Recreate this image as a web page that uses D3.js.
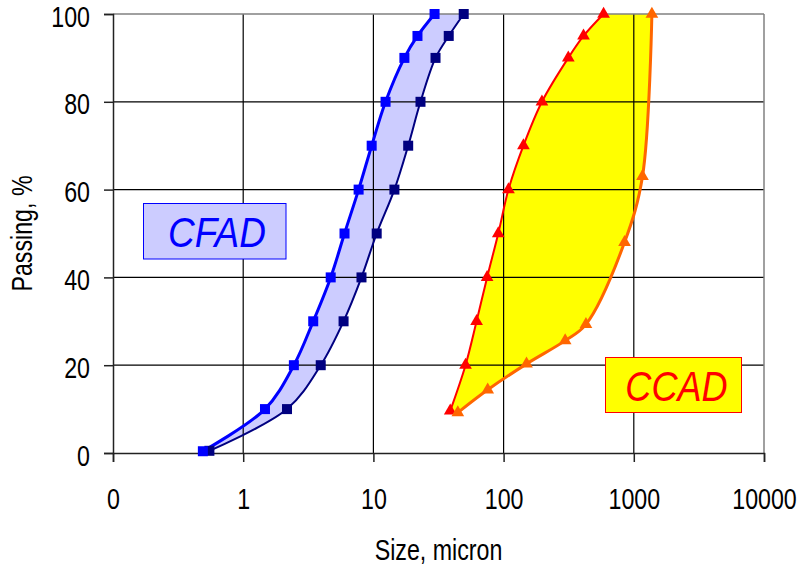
<!DOCTYPE html>
<html>
<head>
<meta charset="utf-8">
<script src="https://cdn.jsdelivr.net/npm/d3@7"></script>
<style>
  html, body { margin: 0; padding: 0; background: #fff; }
  svg { display: block; }
  text { font-family: "Liberation Sans", Arial, sans-serif; }
</style>
</head>
<body>
<svg id="chart" width="798" height="567"></svg>
<script>
// ---------------- DATA ----------------
const xTickValues = [0.1, 1, 10, 100, 1000, 10000];
const xTickLabels = ["0", "1", "10", "100", "1000", "10000"];
const yTickValues = [0, 20, 40, 60, 80, 100];
const xGridValues = [1, 10, 100, 1000];
const yGridValues = [20, 40, 60, 80];

// CFAD fine boundary (blue squares)
const cfadFineSize    = [0.49, 1.47, 2.45, 3.45, 4.7, 6.0, 7.7, 9.7, 12.4, 17.3, 21.8, 29.5];
const cfadFinePassing = [0.4, 10, 20, 30, 40, 50, 60, 70, 80, 90, 95, 100];
// CFAD coarse boundary (navy squares)
const cfadCoarseSize    = [0.55, 2.17, 3.94, 5.9, 8.1, 10.6, 14.5, 18.5, 23, 30, 37.9, 49.4];
const cfadCoarsePassing = [0.5, 10, 20, 30, 40, 50, 60, 70, 80, 90, 95, 100];
// CCAD fine boundary (red triangles)
const ccadFineSize    = [38.9, 51, 62, 74.7, 91, 109, 142, 197, 314, 411, 586];
const ccadFinePassing = [9.6, 20, 30, 40, 50, 60, 70, 80, 90, 95, 100];
// CCAD coarse boundary (orange triangles)
const ccadCoarseSize    = [44.5, 75.5, 150, 297, 429, 849, 1166, 1377];
const ccadCoarsePassing = [9.2, 14.4, 20.3, 25.6, 29.3, 48, 63, 100];

const xTitle = "Size, micron";
const yTitle = "Passing, %";
const labelCFAD = "CFAD";
const labelCCAD = "CCAD";

// ---------------- CHART ----------------
const svg = d3.select("#chart");
const NARROW = 0.8;

const x = d3.scaleLog().domain([0.1, 10000]).range([113, 764]);
const y = d3.scaleLinear().domain([0, 100]).range([453, 14]);

const zip = (s, p) => s.map((v, i) => ({ s: v, p: p[i] }));
const cfadFine = zip(cfadFineSize, cfadFinePassing);
const cfadCoarse = zip(cfadCoarseSize, cfadCoarsePassing);
const ccadFine = zip(ccadFineSize, ccadFinePassing);
const ccadCoarse = zip(ccadCoarseSize, ccadCoarsePassing);

const line = d3.line().x(d => x(d.s)).y(d => y(d.p)).curve(d3.curveCatmullRom.alpha(0.5));

function bandPath(a, b) {
  const p1 = line(a);
  const p2 = line(b.slice().reverse()).replace(/^M/, "L");
  return p1 + p2 + "Z";
}

// fills
svg.append("path").attr("d", bandPath(cfadFine, cfadCoarse))
  .attr("fill", "#CCCCFF").attr("stroke", "none");
svg.append("path").attr("d", bandPath(ccadFine, ccadCoarse))
  .attr("fill", "#FFFF00").attr("stroke", "none");

// gridlines
const grid = svg.append("g");
grid.selectAll(".vg").data(xGridValues).enter().append("line")
  .attr("x1", d => x(d)).attr("x2", d => x(d))
  .attr("y1", y(0)).attr("y2", y(100))
  .attr("stroke", "#000").attr("stroke-width", 1.2);
grid.selectAll(".hg").data(yGridValues).enter().append("line")
  .attr("x1", x(0.1)).attr("x2", x(10000))
  .attr("y1", d => y(d)).attr("y2", d => y(d))
  .attr("stroke", "#000").attr("stroke-width", 1.2);
// plot border (top & right)
svg.append("line").attr("x1", x(0.1)).attr("x2", x(10000)).attr("y1", y(100)).attr("y2", y(100))
  .attr("stroke", "#808080").attr("stroke-width", 1.5);
svg.append("line").attr("x1", x(10000)).attr("x2", x(10000)).attr("y1", y(100)).attr("y2", y(0))
  .attr("stroke", "#808080").attr("stroke-width", 1.5);

// axes
const xAxis = d3.axisBottom(x).tickValues(xTickValues)
  .tickFormat((d, i) => xTickLabels[i]).tickSizeOuter(0).tickSize(9);
const gx = svg.append("g").attr("transform", `translate(0,${y(0)})`).call(xAxis);
gx.select(".domain").attr("stroke", "#222").attr("stroke-width", 1.5);
gx.selectAll(".tick line").attr("stroke", "#222").attr("stroke-width", 1.5);
gx.selectAll(".tick text")
  .attr("y", 56).attr("dy", 0)
  .attr("transform", `scale(${NARROW},1)`)
  .attr("font-size", 29).attr("fill", "#000")
  .style("font-family", '"Liberation Sans", Arial, sans-serif');

const yAxis = d3.axisLeft(y).tickValues(yTickValues).tickFormat(d3.format("d"))
  .tickSizeOuter(0).tickSize(9);
const gy = svg.append("g").attr("transform", `translate(${x(0.1)},0)`).call(yAxis);
gy.select(".domain").attr("stroke", "#222").attr("stroke-width", 1.5);
gy.selectAll(".tick line").attr("stroke", "#222").attr("stroke-width", 1.5);
gy.selectAll(".tick text")
  .attr("x", -23 / NARROW).attr("dy", "0.42em")
  .attr("transform", `scale(${NARROW},1)`)
  .attr("font-size", 29).attr("fill", "#000")
  .style("font-family", '"Liberation Sans", Arial, sans-serif');

// axis titles
svg.append("text").text(xTitle)
  .attr("transform", `translate(${(x(0.1) + x(10000)) / 2},560) scale(${NARROW},1)`)
  .attr("text-anchor", "middle").attr("font-size", 29).attr("fill", "#000");
svg.append("text").text(yTitle)
  .attr("transform", `translate(32,${(y(0) + y(100)) / 2}) rotate(-90) scale(${NARROW},1)`)
  .attr("text-anchor", "middle").attr("font-size", 29).attr("fill", "#000");

// series lines
function drawSeries(data, color, width) {
  svg.append("path").attr("d", line(data)).attr("fill", "none")
    .attr("stroke", color).attr("stroke-width", width).attr("stroke-linejoin", "round");
}
drawSeries(cfadCoarse, "#000080", 2);
drawSeries(cfadFine, "#0000FF", 3);
drawSeries(ccadFine, "#FF0000", 2);
drawSeries(ccadCoarse, "#FF6600", 3);

// markers
function squares(data, color) {
  svg.append("g").selectAll("rect").data(data).enter().append("rect")
    .attr("x", d => x(d.s) - 5).attr("y", d => y(d.p) - 5)
    .attr("width", 10).attr("height", 10).attr("fill", color);
}
function triangles(data, color) {
  const sym = d3.symbol().type(d3.symbolTriangle).size(70);
  svg.append("g").selectAll("path").data(data).enter().append("path")
    .attr("d", sym).attr("transform", d => `translate(${x(d.s)},${y(d.p)})`)
    .attr("fill", color);
}
squares(cfadCoarse, "#000080");
squares(cfadFine, "#0000FF");
triangles(ccadFine, "#FF0000");
triangles(ccadCoarse, "#FF6600");

// labels
svg.append("rect").attr("x", 143.5).attr("y", 203.5).attr("width", 142.5).attr("height", 55.5)
  .attr("fill", "#CCCCFF").attr("stroke", "#0000FF").attr("stroke-width", 1);
svg.append("text").text(labelCFAD)
  .attr("transform", `translate(217,247) scale(0.86,1)`)
  .attr("text-anchor", "middle").attr("font-size", 43).attr("font-style", "italic")
  .attr("fill", "#0000FF");

svg.append("rect").attr("x", 605.5).attr("y", 357.5).attr("width", 136).attr("height", 55)
  .attr("fill", "#FFFF00").attr("stroke", "#FF0000").attr("stroke-width", 1);
svg.append("text").text(labelCCAD)
  .attr("transform", `translate(676.5,400.5) scale(0.86,1)`)
  .attr("text-anchor", "middle").attr("font-size", 42).attr("font-style", "italic")
  .attr("fill", "#FF0000");
</script>
</body>
</html>
